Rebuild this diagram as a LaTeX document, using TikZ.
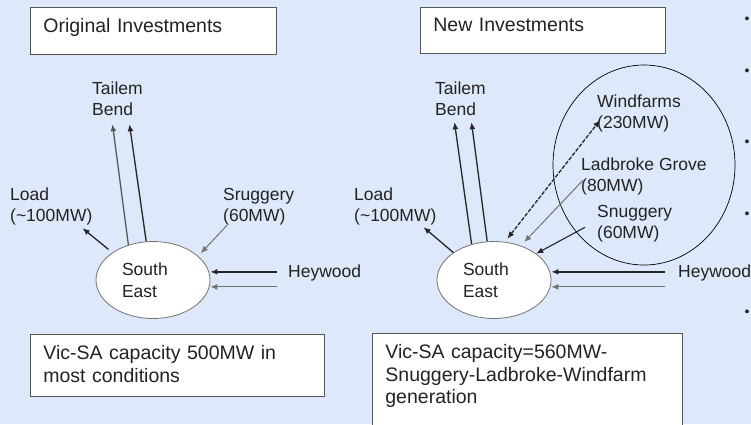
\documentclass[tikz,border=0pt]{standalone}
\usepackage{fontspec}
\setmainfont{Liberation Sans}
\usetikzlibrary{arrows.meta,shapes.geometric}
\definecolor{sfondo}{RGB}{221,232,250}
\definecolor{bordo}{RGB}{85,85,85}
\definecolor{inchiostro}{RGB}{35,35,35}

\begin{document}
\begin{tikzpicture}[x=1pt,y=-1pt,
    didasc/.style={anchor=north west,inner sep=0pt,align=left,text=inchiostro,
      font=\fontsize{17.5}{21}\selectfont},
    riquadro/.style={draw=bordo,line width=0.8pt,fill=white,anchor=north west,
      inner xsep=13pt,inner ysep=11pt,align=left,text=inchiostro,
      font=\fontsize{19.5}{22.5}\selectfont},
    nodo/.style={ellipse,draw=black!55,line width=0.8pt,fill=white,
      minimum width=114pt,minimum height=77pt,inner sep=0pt,
      text width=62pt,align=left,text=inchiostro,font=\fontsize{17.5}{22}\selectfont},
    freccia/.style={draw=black!85,line width=1.3pt,-{Latex[length=7pt,width=6pt]}},
    sottile/.style={freccia,draw=black!55,line width=1pt}]
        % --- macro riutilizzabili -----------------------------------------
        \def\scritta#1#2#3{\node[didasc] (#1) at #2 {#3};}
        % --- cornice ------------------------------------------------------
        \useasboundingbox (0,0) rectangle (751,424);
        \clip (0,0) rectangle (751,424);
        \fill[sfondo] (0,0) rectangle (751,424);
        % --- riquadri di testo --------------------------------------------
        \node[riquadro,text width=220pt,text depth=11pt] (tit1) at (30,7) {Original Investments};
        \node[riquadro,text width=219pt,text depth=11pt] (tit2) at (420,7) {New Investments};
        \node[riquadro,text width=268pt,text depth=26pt] (cap1) at (30,334)
            {Vic-SA capacity 500MW in\\most conditions};
        \node[riquadro,text width=284pt,text depth=80pt] (cap2) at (372,333)
            {Vic-SA capacity=560MW-\\Snuggery-Ladbroke-Windfarm\\generation};
        % --- nodi South East ----------------------------------------------
        \node[nodo] (se1) at (153,280) {South\\East};
        \node[nodo] (se2) at (494,280) {South\\East};
        % --- regione delle nuove centrali ---------------------------------
        \draw[line width=0.7pt] (644,165) ellipse [x radius=91,y radius=100];
        % --- etichette ----------------------------------------------------
        \scritta{tb1}{(92,82)}{Tailem\\Bend}
        \scritta{ld1}{(10,188)}{Load\\(\textasciitilde100MW)}
        \scritta{sr1}{(223,188)}{Sruggery\\(60MW)}
        \scritta{hw1}{(288,265)}{Heywood}
        \scritta{tb2}{(435,82)}{Tailem\\Bend}
        \scritta{ld2}{(354,188)}{Load\\(\textasciitilde100MW)}
        \scritta{wf}{(597,95)}{Windfarms\\(230MW)}
        \scritta{lg}{(581,158)}{Ladbroke Grove\\(80MW)}
        \scritta{sn}{(597,205)}{Snuggery\\(60MW)}
        \scritta{hw2}{(678,265)}{Heywood}
        \foreach \yy in {20,72,143,215,313}
            \node[didasc,anchor=center,font=\fontsize{14}{14}\selectfont] (pt\yy) at (747,\yy) {\textbullet};
        % --- flussi: situazione originale ---------------------------------
        \draw[freccia,draw=black!65] (se1.125) -- ([xshift=-5pt,yshift=-8pt]tb1.south);
        \draw[freccia] (se1.100) -- ([xshift=12pt,yshift=-8pt]tb1.south);
        \draw[freccia,shorten <=5pt] (se1.146) -- ([xshift=-10pt,yshift=-2.5pt]ld1.south east);
        \draw[sottile,shorten >=4pt] ([xshift=4pt]sr1.south west) -- (se1.28);
        \coordinate (hwa1) at ([xshift=-11pt,yshift=1.5pt]hw1.west);
        \coordinate (hwb1) at ([xshift=-11pt,yshift=-13.5pt]hw1.west);
        \draw[freccia,line width=2pt] (hwa1) -- (se1.east |- hwa1);
        \draw[sottile] (hwb1) -- (se1.east |- hwb1);
        % --- flussi: nuovi investimenti -----------------------------------
        \draw[freccia] (se2.122) -- ([xshift=-6pt,yshift=-6pt]tb2.south);
        \draw[freccia] (se2.100) -- ([xshift=11pt,yshift=-6pt]tb2.south);
        \draw[freccia] (se2.146) -- ([xshift=-13pt,yshift=-1.5pt]ld2.south east);
        \draw[freccia,{Latex[length=7pt,width=6pt]}-{Latex[length=7pt,width=6pt]},
            dash pattern=on 4pt off 1.5pt,shorten <=4pt] (se2.74) -- ([xshift=3pt,yshift=12.5pt]wf.south west);
        \draw[sottile,shorten >=5pt] ([xshift=2pt,yshift=15.5pt]lg.south west) -- (se2.52);
        \draw[freccia,line width=1.1pt] ([xshift=-12pt,yshift=15pt]sn.south west) -- (se2.32);
        \coordinate (hwa2) at ([xshift=-13pt,yshift=1.5pt]hw2.west);
        \coordinate (hwb2) at ([xshift=-13pt,yshift=-13.5pt]hw2.west);
        \draw[freccia,line width=2pt] (hwa2) -- (se2.east |- hwa2);
        \draw[sottile] (hwb2) -- (se2.east |- hwb2);
\end{tikzpicture}
\end{document}
